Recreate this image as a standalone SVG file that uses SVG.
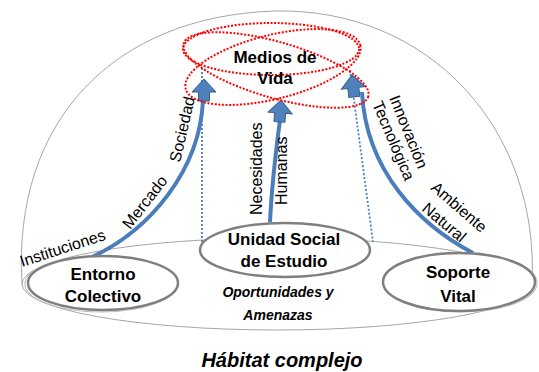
<svg xmlns="http://www.w3.org/2000/svg" width="539" height="372" viewBox="0 0 539 372">
<style>
.node{fill:#fff;stroke:#7f7f7f;stroke-width:2.5}
.shadow{fill:none;stroke:#c0c0c0;stroke-width:1.2}
.lbl{font-family:"Liberation Sans",Arial,sans-serif;font-weight:bold;font-size:17px;fill:#000;text-anchor:middle}
.side{font-family:"Liberation Sans",Arial,sans-serif;font-size:16px;fill:#000}
.ital{font-family:"Liberation Sans",Arial,sans-serif;font-weight:bold;font-style:italic;fill:#000;text-anchor:middle}
.red{fill:none;stroke:#ff0000;stroke-width:2;stroke-dasharray:2 1.6}
.dot{fill:none;stroke:#4a7ebb;stroke-width:1.8;stroke-dasharray:2 2}
.shaft{fill:none;stroke:#4a7ebb;stroke-width:4}
.head{fill:#4f81bd;stroke:#385d8a;stroke-width:1}
.thin{fill:none;stroke:#a6a6a6;stroke-width:1}
</style>
<defs>
<polygon id="bh" points="0,0 12,13 5.5,13 5.5,22 -5.5,22 -5.5,13 -12,13"/>
</defs>
<g id="habitat">
<path class="thin" d="M 22,284 C 12,120 115,16 275,11 C 430,8 540,130 532,284"/>
<ellipse class="thin" cx="277" cy="284" rx="255" ry="46"/>
<text class="ital" x="282" y="367" font-size="20">Hábitat complejo</text>
</g>
<g id="connectors">
<line class="dot" x1="202" y1="68" x2="202" y2="243"/>
<line class="dot" x1="350" y1="70" x2="373" y2="242"/>
<path class="shaft" d="M 92,257 C 150,230 200,170 203,100"/>
<path class="shaft" d="M 270,222 C 272,180 276,150 280,120"/>
<path class="shaft" d="M 473,253 C 420,225 366,172 362,92"/>
<use href="#bh" class="head" transform="translate(204,79)"/>
<use href="#bh" class="head" transform="translate(281,100) rotate(4)"/>
<use href="#bh" class="head" transform="translate(352,75) rotate(-6)"/>
<text class="side" transform="translate(22,267) rotate(-18)">Instituciones</text>
<text class="side" transform="translate(130,230) rotate(-52)">Mercado</text>
<text class="side" transform="translate(180,163) rotate(-77)">Sociedad</text>
<text class="side" transform="translate(262,215) rotate(-90)">Necesidades</text>
<text class="side" transform="translate(287,205) rotate(-90)">Humanas</text>
<text class="side" transform="translate(389,98) rotate(68)">Innovación</text>
<text class="side" transform="translate(372,104) rotate(67)">Tecnológica</text>
<text class="side" transform="translate(430,189) rotate(41)">Ambiente</text>
<text class="side" transform="translate(421,210) rotate(40)">Natural</text>
</g>
<g id="entorno">
<ellipse class="shadow" cx="101" cy="284" rx="76" ry="28"/>
<ellipse class="node" cx="103" cy="283" rx="75" ry="27"/>
<text class="lbl" x="103" y="280">Entorno</text>
<text class="lbl" x="103" y="302">Colectivo</text>
</g>
<g id="unidad">
<ellipse class="node" cx="285" cy="250" rx="85" ry="27"/>
<text class="lbl" x="284" y="245">Unidad Social</text>
<text class="lbl" x="284" y="267">de Estudio</text>
<text class="ital" x="278" y="297" font-size="14">Oportunidades y</text>
<text class="ital" x="278" y="320" font-size="14">Amenazas</text>
</g>
<g id="soporte">
<ellipse class="shadow" cx="461" cy="283" rx="76" ry="29"/>
<ellipse class="node" cx="459" cy="282" rx="76" ry="29"/>
<text class="lbl" x="458" y="278">Soporte</text>
<text class="lbl" x="458" y="302">Vital</text>
</g>
<g id="medios">
<ellipse class="red" cx="276" cy="70" rx="96" ry="28" transform="rotate(16 276 70)"/>
<ellipse class="red" cx="273" cy="67" rx="90" ry="32" transform="rotate(-14 273 67)"/>
<ellipse class="red" cx="271" cy="49" rx="88" ry="26"/>
<text class="lbl" x="275" y="63" font-size="16">Medios de</text>
<text class="lbl" x="275" y="84" font-size="16">Vida</text>
</g>
</svg>
